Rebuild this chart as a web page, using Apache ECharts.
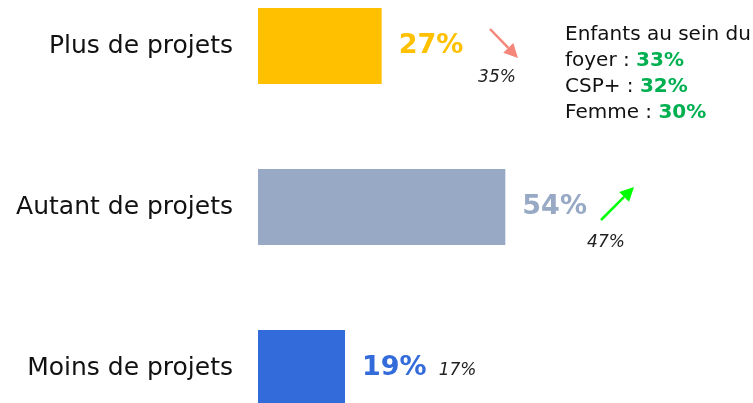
<!DOCTYPE html>
<html>
    <head>
        <meta charset="UTF-8" />
        <title>Projets</title>
        <style>
            html,
            body {
                margin: 0;
                padding: 0;
                background: #fff;
            }
            #chart {
                width: 753px;
                height: 403px;
            }
        </style>
    </head>
    <body>
        <div id="chart"></div>
        <script src="https://cdn.jsdelivr.net/npm/echarts@6/dist/echarts.min.js"></script>
        <script>
            const categories = ["Plus de projets", "Autant de projets", "Moins de projets"];
            const values = [27, 54, 19];
            const previous = [35, 47, 17];
            const barColors = ["#FFC000", "#97A9C4", "#346BDB"];
            const profileNames = ["Enfants au sein du\nfoyer : ", "CSP+ : ", "Femme : "];
            const profileValues = [33, 32, 30];

            const font = "DejaVu Sans";
            const chart = echarts.init(document.getElementById("chart"));

            const data = values.map((v, i) => ({
                value: v,
                itemStyle: { color: barColors[i] },
                label: {
                    formatter: i === 2 ? "{v|{c}%}{p|" + previous[i] + "%}" : "{v|{c}%}",
                    rich: {
                        v: { fontFamily: font, fontWeight: "bold", fontSize: 27, color: barColors[i] },
                        p: { fontFamily: font, fontStyle: "italic", fontSize: 17, color: "#222", padding: [6, 0, 0, 12] },
                    },
                },
            }));

            // text block top right
            let rich = "";
            profileNames.forEach((n, i) => {
                rich += n + "{g|" + profileValues[i] + "%}" + (i < profileNames.length - 1 ? "\n" : "");
            });

            function arrow(x1, y1, x2, y2, color) {
                const a = Math.atan2(y2 - y1, x2 - x1);
                const h = 14, w = 7;
                const bx = x2 - h * Math.cos(a), by = y2 - h * Math.sin(a);
                return {
                    type: "group",
                    children: [
                        { type: "line", shape: { x1: x1, y1: y1, x2: bx, y2: by }, style: { stroke: color, lineWidth: 2.5 } },
                        {
                            type: "polygon",
                            shape: {
                                points: [
                                    [x2, y2],
                                    [bx + w * Math.sin(a), by - w * Math.cos(a)],
                                    [bx - w * Math.sin(a), by + w * Math.cos(a)],
                                ],
                            },
                            style: { fill: color },
                        },
                    ],
                };
            }

            const option = {
                animation: false,
                grid: { left: 258, width: 458, top: 46, height: 322 },
                xAxis: { type: "value", min: 0, max: 100, show: false },
                yAxis: {
                    type: "category",
                    inverse: true,
                    boundaryGap: false,
                    data: categories,
                    axisLine: { show: false },
                    axisTick: { show: false },
                    splitLine: { show: false },
                    axisLabel: { margin: 25, fontFamily: font, fontSize: 25, color: "#111" },
                },
                series: [
                    {
                        type: "bar",
                        data: data,
                        barWidth: 76,
                        clip: false,
                        label: { show: true, position: "right", distance: 17 },
                    },
                ],
                graphic: [
                    arrow(490, 29, 518, 58, "#F4877A"),
                    arrow(601, 220, 634, 187, "#00FF00"),
                    {
                        type: "text",
                        x: 497,
                        y: 78,
                        style: { text: previous[0] + "%", fontFamily: font, fontStyle: "italic", fontSize: 17, fill: "#222", align: "center", verticalAlign: "middle" },
                    },
                    {
                        type: "text",
                        x: 606,
                        y: 243,
                        style: { text: previous[1] + "%", fontFamily: font, fontStyle: "italic", fontSize: 17, fill: "#222", align: "center", verticalAlign: "middle" },
                    },
                    {
                        type: "text",
                        x: 565,
                        y: 22,
                        style: {
                            text: rich,
                            fontFamily: font,
                            fontSize: 20,
                            lineHeight: 26,
                            fill: "#111",
                            rich: { g: { fontFamily: font, fontSize: 20, fontWeight: "bold", fill: "#00B050", lineHeight: 26 } },
                        },
                    },
                ],
            };
            chart.setOption(option);
        </script>
    </body>
</html>
